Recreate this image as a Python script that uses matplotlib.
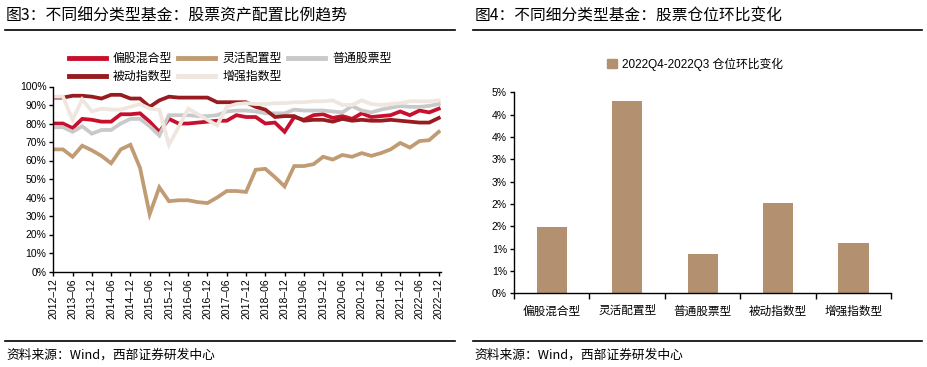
import numpy as np
import matplotlib.pyplot as plt
from matplotlib.lines import Line2D
from matplotlib.patches import Patch

plt.rcParams['font.family'] = ['Liberation Sans', 'Noto Sans CJK SC', 'DejaVu Sans']
CJK = ['Noto Sans CJK SC', 'DejaVu Sans']

# ---- data: fig 3 (quarterly, 2012-12 .. 2022-12) ----
quarters = [f"{y}-{m}" for y in range(2012, 2023) for m in ("03", "06", "09", "12")][3:]
series_names = ["偏股混合型", "灵活配置型", "普通股票型", "被动指数型", "增强指数型"]
pianpu = [80, 80, 77.5, 82.5, 82, 81, 81, 85, 85, 85.5, 81, 75.5, 82.5, 80, 80,
          80.5, 81, 81.5, 81.5, 84.5, 83.5, 83.5, 80, 80.5, 75.5, 83.5, 82, 84.5,
          85, 83, 84, 82.5, 85.5, 83.5, 84, 84.5, 86.5, 84.5, 87, 86, 88]
linghuo = [66, 66, 62, 68, 65.5, 62.5, 58.5, 66, 68.5, 56, 31, 45.5, 38, 38.5,
           38.5, 37.5, 37, 40, 43.5, 43.5, 43, 55, 55.5, 51, 46, 57, 57, 58, 62,
           60.5, 63, 62, 64, 62.5, 64, 66, 69.5, 67, 70.5, 71, 75.5]
putong = [78, 78, 75.5, 78.5, 74.5, 76.5, 76.5, 80, 82.5, 82.5, 78.5, 73.5, 84.5,
          84.5, 84.5, 84, 84, 84.5, 86.5, 87, 87, 86.5, 85.5, 85.5, 85.5, 87.5,
          87, 87, 87, 86.5, 86, 89.5, 87, 86, 87.5, 88.5, 89.5, 89, 89, 89.5, 90.5]
beidong = [94, 94, 95, 95, 94.5, 93.5, 95.5, 95.5, 93.5, 93.5, 89, 92.5, 94.5,
           94, 94, 94, 94, 91.5, 91.5, 91.5, 91.5, 89, 87.5, 83.5, 84, 84, 81.5,
           82, 82, 81, 82.5, 81.5, 82, 81.5, 81.5, 82, 81.5, 81, 80.5, 80.5, 83]
zengqiang = [94.5, 94.5, 82, 93, 86.5, 88, 87.5, 87.5, 89, 90.5, 88, 87.5, 68.5,
             78, 88, 85, 82, 79, 89, 90.5, 91, 90.5, 90.5, 91, 91, 91.5, 91.5,
             92, 92, 92.5, 90, 90, 92.5, 90.5, 90, 90.5, 91, 92, 92, 92, 92.5]

# ---- data: fig 4 ----
bar_cats = ["偏股混合型", "灵活配置型", "普通股票型", "被动指数型", "增强指数型"]
bar_vals = [1.48, 4.30, 0.88, 2.02, 1.13]
bar_label = "2022Q4-2022Q3 仓位环比变化"

colors = ["#c8102e", "#c09b73", "#c9c9c9", "#981b1f", "#efe6df"]

W, H = 928, 367
fig = plt.figure(figsize=(W / 100, H / 100), dpi=100)


def box(x0, y0, x1, y1):
    # pixel box (top-left origin) -> figure fraction
    return [x0 / W, 1 - y1 / H, (x1 - x0) / W, (y1 - y0) / H]


def hline(x0, x1, y, lw=1.2):
    fig.add_artist(Line2D([x0 / W, x1 / W], [1 - y / H, 1 - y / H],
                          color="black", lw=lw, transform=fig.transFigure))


# titles, rules, sources
fig.text(6 / W, 1 - 16 / H, "图3：不同细分类型基金：股票资产配置比例趋势",
         family=CJK, fontsize=11.4, va="center", ha="left")
fig.text(475 / W, 1 - 16 / H, "图4：不同细分类型基金：股票仓位环比变化",
         family=CJK, fontsize=11.3, va="center", ha="left")
hline(5, 455, 30)
hline(473, 922, 30)
hline(5, 455, 341)
hline(473, 922, 341)
fig.text(6 / W, 1 - 355 / H, "资料来源：Wind，西部证券研发中心",
         family=CJK, fontsize=9.2, va="center", ha="left")
fig.text(474 / W, 1 - 355 / H, "资料来源：Wind，西部证券研发中心",
         family=CJK, fontsize=9.2, va="center", ha="left")

# ---- left: line chart ----
ax = fig.add_axes(box(53.3, 86.5, 440.7, 271.5))
x = np.arange(len(quarters))
data = [pianpu, linghuo, putong, beidong, zengqiang]
handles = []
for name, vals, c in zip(series_names, data, colors):
    h, = ax.plot(x, vals, color=c, lw=2.7, solid_joinstyle="miter", label=name)
    handles.append(h)
ax.set_xlim(0, len(quarters) - 0.8)
ax.set_ylim(0, 100)
ax.set_yticks(np.arange(0, 101, 10))
ax.set_yticklabels([f"{v}%" for v in range(0, 101, 10)], fontsize=7.5)
ax.set_xticks(x[::2])
ax.set_xticklabels([q.replace("-", "–") for q in quarters[::2]], rotation=90, fontsize=7.5)
for s in ("top", "right"):
    ax.spines[s].set_visible(False)
for s in ("left", "bottom"):
    ax.spines[s].set_linewidth(1.0)
ax.tick_params(direction="out", length=3, width=1.0, pad=2)

order = [0, 3, 1, 4, 2]
leg_handles = [Line2D([], [], color=colors[i], lw=3.5) for i in order]
fig.legend(leg_handles, [series_names[i] for i in order],
           ncol=3, loc="center", bbox_to_anchor=(230 / W, 1 - 67.5 / H),
           frameon=False, prop={"family": CJK, "size": 8.6},
           handlelength=3.1, columnspacing=0.5, handletextpad=0.6,
           labelspacing=0.4, borderpad=0)

# ---- right: bar chart ----
bx = fig.add_axes(box(514, 92.3, 891.3, 293.3))
bpos = np.arange(len(bar_cats))
bx.bar(bpos, bar_vals, width=0.4, color="#b39170", label=bar_label)
bx.set_xlim(-0.5, len(bar_cats) - 0.5)
bx.set_ylim(0, 4.5)
yt = np.arange(0, 4.51, 0.5)
bx.set_yticks(yt)
bx.set_yticklabels([f"{int(np.floor(v + 0.5))}%" for v in yt], fontsize=7.5)
bx.set_xticks(bpos)
bx.set_xticklabels(bar_cats, family=CJK, fontsize=8.4)
bx.set_xticks(np.arange(-0.5, len(bar_cats), 1.0), minor=True)
bx.tick_params(axis="x", which="major", length=0, pad=8)
bx.tick_params(axis="x", which="minor", length=4, width=1.0, direction="out")
bx.tick_params(axis="y", direction="out", length=3, width=1.0, pad=2)
for s in ("top", "right"):
    bx.spines[s].set_visible(False)
for s in ("left", "bottom"):
    bx.spines[s].set_linewidth(1.0)

fig.legend([Patch(color="#b39170")], [bar_label], loc="center",
           bbox_to_anchor=(695 / W, 1 - 64 / H), frameon=False,
           prop={"family": ['Liberation Sans', 'Noto Sans CJK SC'], "size": 8.5},
           handlelength=0.8, handleheight=0.8, handletextpad=0.4, borderpad=0)

fig.savefig("out.png", dpi=100)
